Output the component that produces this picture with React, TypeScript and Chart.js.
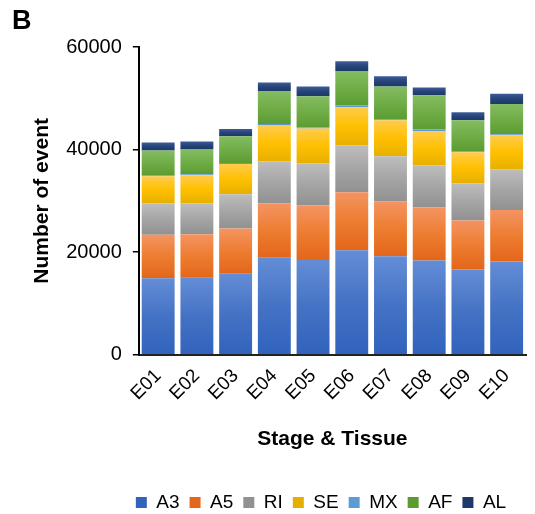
import React, { useEffect, useRef } from "react";
import { Chart, registerables } from "chart.js";

Chart.register(...registerables);

const categories = ["E01", "E02", "E03", "E04", "E05", "E06", "E07", "E08", "E09", "E10"];
const seriesNames = ["A3", "A5", "RI", "SE", "MX", "AF", "AL"];
const A3 = [14900, 15000, 15800, 18900, 18500, 20400, 19200, 18400, 16600, 18200];
const A5 = [8500, 8500, 8800, 10600, 10600, 11300, 10700, 10300, 9600, 10000];
const RI = [6100, 6000, 6700, 8200, 8200, 9100, 8800, 8200, 7200, 7900];
const SE = [5300, 5500, 5900, 7000, 6800, 7500, 7000, 6700, 6100, 6700];
const MX = [200, 200, 200, 300, 200, 300, 200, 300, 200, 200];
const AF = [4800, 4800, 5200, 6400, 6100, 6700, 6400, 6700, 6000, 5900];
const AL = [1600, 1600, 1400, 1700, 1900, 1900, 2000, 1500, 1600, 2000];
const yTicks = [0, 20000, 40000, 60000];

const seriesValues = [A3, A5, RI, SE, MX, AF, AL];
const flatColors = ["#4472C4", "#ED7D31", "#A5A5A5", "#FFC000", "#5B9BD5", "#70AD47", "#264478"];
const lightColors = ["#648DD6", "#F49462", "#BDBDBD", "#FFCC4D", "#5B9BD5", "#84BC62", "#3E5C98"];
const darkColors = ["#3163BD", "#E3661A", "#919191", "#E6AF00", "#5B9BD5", "#5C9B32", "#1D3869"];

const FONT = 'Arial, "Liberation Sans", sans-serif';

export default function App() {
  const ref = useRef<HTMLCanvasElement>(null);
  useEffect(() => {
    if (!ref.current) return;
    const makeBg = (d: number) => (ctx: any) => {
      if (ctx.type !== "data") return flatColors[d];
      const chart = ctx.chart;
      const area = chart.chartArea;
      const ys = chart.scales && chart.scales.y;
      if (!area || !ys) return flatColors[d];
      const i = ctx.dataIndex;
      let base = 0;
      for (let k = 0; k < d; k++) base += seriesValues[k][i];
      const top = base + seriesValues[d][i];
      const y0 = ys.getPixelForValue(top);
      const y1 = ys.getPixelForValue(base);
      if (!isFinite(y0) || !isFinite(y1) || y0 === y1) return flatColors[d];
      const g = chart.ctx.createLinearGradient(0, y0, 0, y1);
      g.addColorStop(0, lightColors[d]);
      g.addColorStop(0.5, flatColors[d]);
      g.addColorStop(1, darkColors[d]);
      return g;
    };
    const legendShift = {
      id: "legendShift",
      afterLayout(chart: any) {
        const lg = chart.legend;
        if (!lg) return;
        const dx = 43;
        lg.left += dx;
        lg.right += dx;
      },
    };
    const chart = new Chart(ref.current, {
      type: "bar",
      plugins: [legendShift],
      data: {
        labels: categories,
        datasets: seriesNames.map((name, d) => ({
          label: name,
          data: seriesValues[d],
          backgroundColor: makeBg(d),
          borderWidth: 0,
          categoryPercentage: 1,
          barPercentage: 0.85,
        })),
      },
      options: {
        animation: false,
        responsive: false,
        devicePixelRatio: 1,
        layout: { padding: { top: 47, right: 9, left: 30, bottom: -8 } },
        plugins: {
          tooltip: { enabled: false },
          legend: {
            position: "bottom",
            labels: {
              boxWidth: 11,
              boxHeight: 11,
              padding: 10,
              color: "#000",
              font: { family: FONT, size: 19 },
            },
          },
        },
        scales: {
          x: {
            stacked: true,
            afterFit: (axis: any) => {
              axis.paddingLeft = 0;
              axis.paddingRight = 0;
            },
            grid: { display: false },
            border: { display: true, color: "#222", width: 2 },
            ticks: {
              minRotation: 45,
              maxRotation: 45,
              color: "#000",
              font: { family: FONT, size: 19 },
              padding: 2,
            },
            title: {
              display: true,
              text: "Stage & Tissue",
              color: "#000",
              font: { family: FONT, size: 21, weight: "bold" },
              padding: { top: 19.5, bottom: 31.5 },
            },
          },
          y: {
            stacked: true,
            min: 0,
            max: 60000,
            afterBuildTicks: (axis: any) => {
              axis.ticks = yTicks.map((v) => ({ value: v }));
            },
            grid: {
              display: true,
              drawOnChartArea: false,
              drawTicks: true,
              tickLength: 6,
              color: "#000",
              lineWidth: 1.5,
            },
            border: { display: true, color: "#000", width: 2 },
            ticks: {
              color: "#000",
              font: { family: FONT, size: 20 },
              padding: 11,
              callback: (v: any) => String(v),
            },
            title: {
              display: true,
              text: "Number of event",
              color: "#000",
              font: { family: FONT, size: 21, weight: "bold" },
              padding: { top: 0, bottom: 0 },
            },
          },
        },
      },
    });
    return () => chart.destroy();
  }, []);
  return (
    <div style={{ position: "fixed", left: 0, top: 0, width: 535, height: 514, background: "#fff" }}>
      <div
        style={{
          position: "absolute",
          left: 12,
          top: 5,
          fontFamily: FONT,
          fontWeight: "bold",
          fontSize: 27,
          color: "#000",
        }}
      >
        B
      </div>
      <canvas ref={ref} width={535} height={514} style={{ display: "block" }} />
    </div>
  );
}
